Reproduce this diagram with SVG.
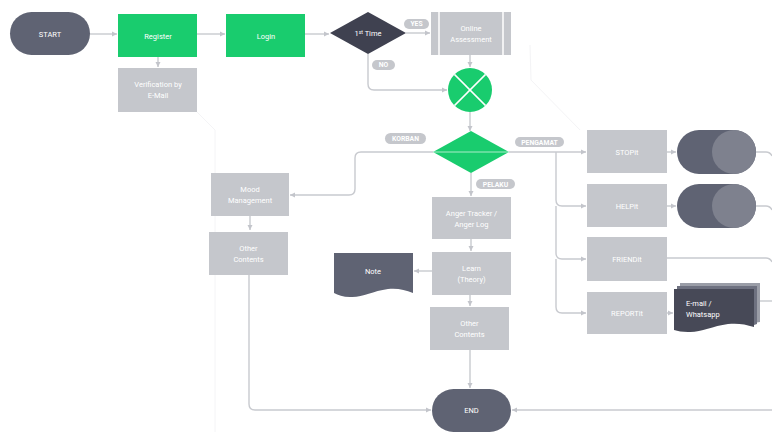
<svg xmlns="http://www.w3.org/2000/svg" width="772" height="432" viewBox="0 0 772 432">
<defs>
<marker id="ah" markerWidth="6" markerHeight="6" refX="5" refY="3" orient="auto" markerUnits="userSpaceOnUse">
<path d="M0,0.5 L5,3 L0,5.5 Z" fill="#c3c5cb"/>
</marker>
<style>
.bg{fill:#ffffff}
.faint{fill:none;stroke:#f4f4f6;stroke-width:1}
.c{fill:none;stroke:#c8cacf;stroke-width:1.4}
.ca{fill:none;stroke:#c8cacf;stroke-width:1.4;marker-end:url(#ah)}
.box{fill:#c5c7cc}
.green{fill:#19cc6e}
.dark{fill:#5f6373}
.darker{fill:#3f4150}
.t{font-family:Roboto,"Liberation Sans",sans-serif;font-size:7.5px;fill:#ffffff;text-anchor:middle}
.lbl{fill:#c5c7cc}
.lt{font-family:Roboto,"Liberation Sans",sans-serif;font-size:6.8px;font-weight:bold;fill:#ffffff;text-anchor:middle}
</style>
</defs>
<rect class="bg" x="0" y="0" width="772" height="432"/>
<g id="background-lines">
<path class="faint" d="M197,112 L215,130 V432"/>
<path class="faint" d="M530,45 L531,80 L580,130"/>
</g>
<g id="connectors">
<path class="ca" d="M90,34 H117"/>
<path class="ca" d="M197,34 H225"/>
<path class="ca" d="M305,34 H329"/>
<path class="ca" d="M158,57 V67"/>
<path class="ca" d="M406,33 H430"/>
<path class="ca" d="M368,54 V84 Q368,90 374,90 H447"/>
<path class="ca" d="M470,54 V67"/>
<path class="ca" d="M470,112 V131"/>
<path class="ca" d="M433,152 H361 Q355,152 355,158 V189 Q355,195 349,195 H290"/>
<path class="ca" d="M250,216 V230"/>
<path class="ca" d="M249,275 V404 Q249,410 255,410 H431"/>
<path class="ca" d="M471,173 V196"/>
<path class="ca" d="M471,239 V251"/>
<path class="ca" d="M432,271 H414"/>
<path class="ca" d="M470,295 V306"/>
<path class="ca" d="M470,350 V388"/>
<path class="ca" d="M509,152 H586"/>
<path class="ca" d="M556,152 V200 Q556,206 562,206 H586"/>
<path class="ca" d="M556,206 V253 Q556,259 562,259 H586"/>
<path class="ca" d="M556,259 V307 Q556,313 562,313 H586"/>
<path class="ca" d="M667,152 H676"/>
<path class="ca" d="M667,206 H676"/>
<path class="ca" d="M667,313 H673"/>
<path class="c" d="M756,152 H766 Q770,152 772,156"/>
<path class="c" d="M756,206 H766 Q770,206 772,210"/>
<path class="c" d="M667,258 H766 Q770,258 772,262"/>
<path class="c" d="M760,301 H772"/>
<path class="ca" d="M772,410 H512"/>
</g>
<g id="start">
<rect class="dark" x="10" y="12" width="80" height="43" rx="21.5"/>
<text class="t" x="50" y="36.5">START</text>
</g>
<g id="register">
<rect class="green" x="118" y="14" width="79" height="43"/>
<text class="t" x="158" y="38.5">Register</text>
</g>
<g id="verification">
<rect class="box" x="118" y="68" width="79" height="44"/>
<text class="t" x="158" y="87">Verification by</text>
<text class="t" x="158" y="98">E-Mail</text>
</g>
<g id="login">
<rect class="green" x="226" y="14" width="79" height="43"/>
<text class="t" x="266" y="38.5">Login</text>
</g>
<g id="first-time">
<polygon class="darker" points="330,33 368,12 406,33 368,54"/>
<text class="t" x="368" y="36">1<tspan font-size="5" dy="-2.5">st</tspan><tspan dy="2.5"> Time</tspan></text>
</g>
<g id="yes-label">
<rect class="lbl" x="404" y="19" width="25" height="10" rx="5"/>
<text class="lt" x="416.5" y="26.4">YES</text>
</g>
<g id="no-label">
<rect class="lbl" x="372" y="60" width="23" height="10" rx="5"/>
<text class="lt" x="383.5" y="67.4">NO</text>
</g>
<g id="online-assessment">
<rect class="box" x="431" y="12" width="80" height="43"/>
<line x1="439" y1="12" x2="439" y2="55" stroke="#ffffff" stroke-width="1.5"/>
<line x1="503" y1="12" x2="503" y2="55" stroke="#ffffff" stroke-width="1.5"/>
<text class="t" x="471" y="31">Online</text>
<text class="t" x="471" y="42">Assessment</text>
</g>
<g id="merge">
<circle class="green" cx="470" cy="90" r="22"/>
<line x1="454.4" y1="74.4" x2="485.6" y2="105.6" stroke="#ffffff" stroke-width="1.5"/>
<line x1="485.6" y1="74.4" x2="454.4" y2="105.6" stroke="#ffffff" stroke-width="1.5"/>
</g>
<g id="role">
<polygon class="green" points="433,152 471,131 509,152 471,173"/>
<line x1="434" y1="152" x2="508" y2="152" stroke="#ffffff" stroke-width="0.8" opacity="0.8"/>
</g>
<g id="korban-label">
<rect class="lbl" x="385" y="133" width="41" height="11" rx="5.5"/>
<text class="lt" x="405.5" y="140.9">KORBAN</text>
</g>
<g id="pelaku-label">
<rect class="lbl" x="476" y="179" width="39" height="10" rx="5"/>
<text class="lt" x="495.5" y="186.5">PELAKU</text>
</g>
<g id="pengamat-label">
<rect class="lbl" x="515" y="137" width="49" height="10" rx="5"/>
<text class="lt" x="539.5" y="144.5">PENGAMAT</text>
</g>
<g id="mood-management">
<rect class="box" x="211" y="173" width="78" height="43"/>
<text class="t" x="250" y="192">Mood</text>
<text class="t" x="250" y="203">Management</text>
</g>
<g id="other-contents-left">
<rect class="box" x="209" y="232" width="79" height="43"/>
<text class="t" x="248.5" y="251">Other</text>
<text class="t" x="248.5" y="262">Contents</text>
</g>
<g id="anger-tracker">
<rect class="box" x="432" y="197" width="79" height="42"/>
<text class="t" x="471.5" y="216">Anger Tracker /</text>
<text class="t" x="471.5" y="227">Anger Log</text>
</g>
<g id="learn">
<rect class="box" x="432" y="252" width="79" height="43"/>
<text class="t" x="471.5" y="271">Learn</text>
<text class="t" x="471.5" y="282">(Theory)</text>
</g>
<g id="note">
<path class="dark" d="M334,253 H413 V293 C405,290 398,288 388,289 C372,291 362,298 350,297 C343,297 338,295 334,293 Z"/>
<text class="t" x="373" y="274">Note</text>
</g>
<g id="other-contents-center">
<rect class="box" x="430" y="307" width="79" height="43"/>
<text class="t" x="469.5" y="326">Other</text>
<text class="t" x="469.5" y="337">Contents</text>
</g>
<g id="end">
<rect class="dark" x="432" y="389" width="79" height="43" rx="21.5"/>
<text class="t" x="471.5" y="413">END</text>
</g>
<g id="stopit">
<rect class="box" x="587" y="130" width="80" height="43"/>
<text class="t" x="627" y="154.5">STOPit</text>
</g>
<g id="helpit">
<rect class="box" x="587" y="184" width="80" height="43"/>
<text class="t" x="627" y="208.5">HELPit</text>
</g>
<g id="friendit">
<rect class="box" x="587" y="237" width="80" height="44"/>
<text class="t" x="627" y="261.5">FRIENDit</text>
</g>
<g id="reportit">
<rect class="box" x="587" y="292" width="80" height="42"/>
<text class="t" x="627" y="315.5">REPORTit</text>
</g>
<g id="toggle-stop">
<rect class="dark" x="677" y="130" width="79" height="44" rx="22"/>
<circle cx="734" cy="152" r="22" fill="#7e818e"/>
</g>
<g id="toggle-help">
<rect class="dark" x="677" y="184" width="79" height="44" rx="22"/>
<circle cx="734" cy="206" r="22" fill="#7e818e"/>
</g>
<g id="email-whatsapp">
<path d="M680,283 H760 V322 L754,323 V286 H680 Z" fill="#9a9da7"/>
<path d="M677,286 H757 V324 L754,325 V289 H677 Z" fill="#6e7180"/>
<path d="M674,289 H754 V327 C745,324 737,323 728,324 C712,326 700,333 688,332 C682,332 678,331 674,330 Z" fill="#474957"/>
<text class="t" x="686" y="306" style="text-anchor:start">E-mail /</text>
<text class="t" x="686" y="317" style="text-anchor:start">Whatsapp</text>
</g>
</svg>
